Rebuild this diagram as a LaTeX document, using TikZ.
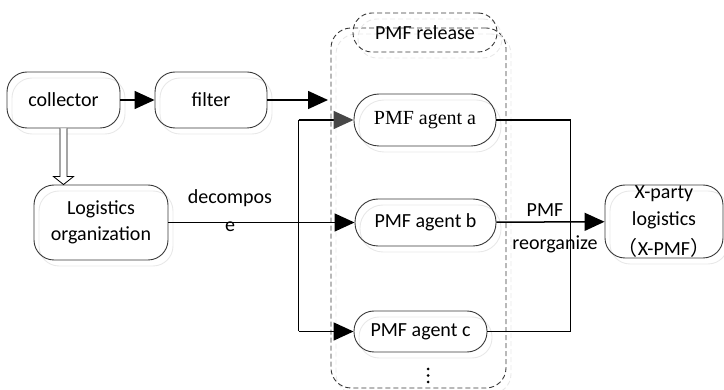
\documentclass[tikz,border=0pt]{standalone}
\usepackage{fontspec}
\setmainfont{Carlito}
\newfontfamily\timesfont{Liberation Serif}
\newfontfamily\cjkfont{Noto Sans CJK SC}
\usetikzlibrary{arrows.meta,calc}

% a box with its faint offset outline drawn first
\newcommand\echobox[4]{%
  \node[echo,#3] (e-#1) at ($(#2)+(5,6)$) {};
  \node[box,#3] (#1) at (#2) {#4};}

\begin{document}
\begin{tikzpicture}[x=1pt,y=-1pt,
  font=\fontsize{20}{26}\selectfont,
  box/.style={draw=black!78, line width=0.9pt, inner sep=0pt, align=center},
  echo/.style={draw=black!9, line width=0.9pt, inner sep=0pt},
  lbl/.style={inner sep=0pt, align=center},
  dashbox/.style={dash pattern=on 5pt off 3pt},
  conn/.style={line width=1.5pt},
  tip/.style={-{Triangle[length=20pt,width=18pt]}},
  graytip/.style={-{Triangle[length=20pt,width=18pt,color=black!72,fill=black!72]}},
]
\useasboundingbox (0,0) rectangle (724,390);

% dashed group of agents and its header
\echobox{grp}{418.5,208}{minimum width=175,minimum height=360,rounded corners=20,dashbox}{}
\echobox{rel}{425,32.5}{minimum width=144,minimum height=39,rounded corners=19,dashbox}{PMF release}

% left-hand chain
\echobox{col}{63.5,100}{minimum width=113,minimum height=56,rounded corners=20}{collector}
\echobox{fil}{211,100}{minimum width=112,minimum height=56,rounded corners=20}{filter}
\echobox{lo}{101,222.5}{minimum width=134,minimum height=75,rounded corners=20}{Logistics\\organization}

% agents
\echobox{pa}{425,120}{minimum width=142,minimum height=52,rounded corners=25}{\timesfont PMF agent a}
\echobox{pb}{425.5,222.5}{minimum width=141,minimum height=47,rounded corners=23}{PMF agent b}
\echobox{pc}{420.5,331.5}{minimum width=133,minimum height=41,rounded corners=20}{PMF agent c}

% target
\echobox{xp}{664,221.5}{minimum width=118,minimum height=73,rounded corners=20,font=\fontsize{20}{27}\selectfont}{X-party\\logistics\\[3pt]{\cjkfont （}X-PMF{\cjkfont ）}}

% labels
\node[lbl,font=\fontsize{20}{28}\selectfont] (dec) at (230,211) {decompos\\e};
\node[lbl] (lpmf) at (545,210) {PMF};
\node[lbl] (lreo) at (555,244) {reorganize};

% continuation dots
\foreach \yy in {369,375.5,382} \fill (428,\yy) circle (1.5);

% hollow block arrow from collector down to the organization box
\coordinate (ha) at (col.south);
\coordinate (hb) at (col.south |- lo.north);
\draw[line width=0.8pt,fill=white]
  ($(ha)+(-3.5,0)$) -- ($(hb)+(-3.5,-8)$) -- ($(hb)+(-10,-8)$) -- (hb)
  -- ($(hb)+(10,-8)$) -- ($(hb)+(3.5,-8)$) -- ($(ha)+(3.5,0)$);

% connectors
\coordinate (fend) at (328,100);
\draw[conn,tip] (col) -- (fil);
\draw[conn,tip] (fil) -- (fend);

\path (pa.west) ++(-55,0) coordinate (jt);
\path (pc.west) ++(-55,0) coordinate (jb);
\draw[conn] (jt) -- (jb);
\draw[conn,graytip] (jt) -- (pa);
\draw[conn,tip] (lo) -- (pb);
\draw[conn,tip] (jb) -- (pc);

\path (pa.east) ++(74,0) coordinate (rt);
\draw[conn] (pa) -- (rt) |- (pc);
\draw[conn,tip] (pb) -- (xp);
\end{tikzpicture}
\end{document}
